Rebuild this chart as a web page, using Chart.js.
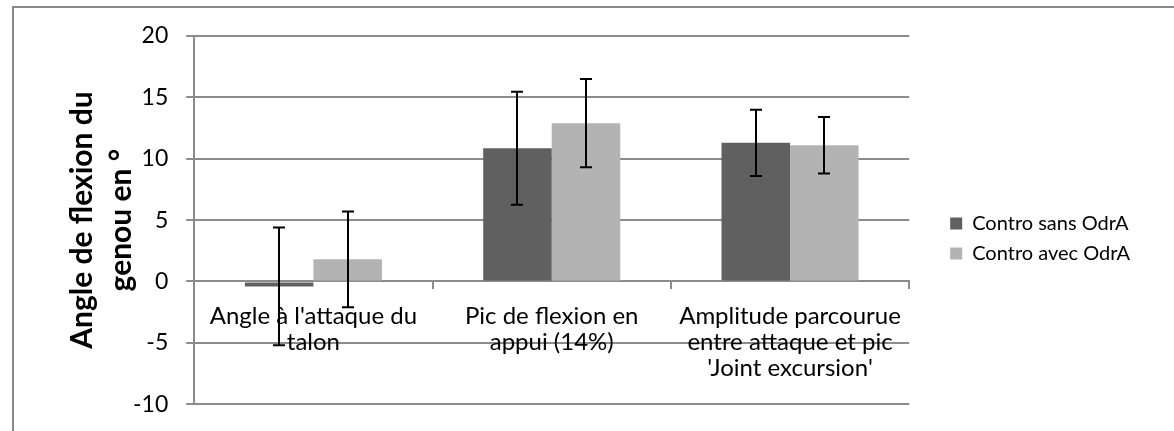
<!DOCTYPE html>
<html lang="fr">
<head>
    <meta charset="UTF-8">
    <title>Angle de flexion du genou</title>
    <script src="https://cdn.jsdelivr.net/npm/chart.js"></script>
    <style>
        body {
            margin: 0;
            padding: 0;
            background-color: #ffffff;
            overflow: hidden;
        }
        .frame {
            position: absolute;
            left: 12px;
            top: 6px;
            width: 1300px;
            height: 600px;
            border-top: 2px solid #888888;
            border-left: 2px solid #888888;
        }
        canvas {
            position: absolute;
            left: 0;
            top: 0;
        }
    </style>
</head>
<body>
    <div class="frame"></div>
    <!-- a little taller than the window: the chart's bottom edge is cropped like the original -->
    <canvas id="chart" width="1174" height="436"></canvas>

    <script>
        // categories (x axis labels, multi-line)
        const categories = [
            ["Angle à l'attaque du", "talon"],
            ["Pic de flexion en", "appui (14%)"],
            ["Amplitude parcourue", "entre attaque et pic", "'Joint excursion'"]
        ];
        const seriesNames = ['Contro sans OdrA', 'Contro avec OdrA'];

        // means
        const sansOdrA = [-0.4, 10.85, 11.3];
        const avecOdrA = [1.8, 12.9, 11.1];

        // standard deviations (error bars)
        const sansOdrAErr = [4.8, 4.6, 2.7];
        const avecOdrAErr = [3.9, 3.6, 2.3];

        const yTicks = [-10, -5, 0, 5, 10, 15, 20];

        const FONT = 'Lato, "Open Sans", sans-serif';
        const gridColor = '#8c8c8c';

        // draws error bars from the bar elements and the y scale
        const errorBars = {
            id: 'errorBars',
            afterDatasetsDraw(chart) {
                const ctx = chart.ctx;
                const yScale = chart.scales.y;
                const errs = [sansOdrAErr, avecOdrAErr];
                ctx.save();
                ctx.strokeStyle = '#000000';
                ctx.lineWidth = 2;
                chart.data.datasets.forEach((ds, i) => {
                    const meta = chart.getDatasetMeta(i);
                    meta.data.forEach((bar, j) => {
                        const v = ds.data[j];
                        const e = errs[i][j];
                        const top = yScale.getPixelForValue(v + e);
                        const bottom = yScale.getPixelForValue(v - e);
                        const x = Math.round(bar.x);
                        ctx.beginPath();
                        ctx.moveTo(x, top);
                        ctx.lineTo(x, bottom);
                        ctx.moveTo(x - 6, top);
                        ctx.lineTo(x + 6, top);
                        ctx.moveTo(x - 6, bottom);
                        ctx.lineTo(x + 6, bottom);
                        ctx.stroke();
                    });
                });
                ctx.restore();
            }
        };

        const ctx = document.getElementById('chart').getContext('2d');
        new Chart(ctx, {
            type: 'bar',
            data: {
                labels: categories,
                datasets: [{
                    label: seriesNames[0],
                    data: sansOdrA,
                    backgroundColor: '#606060',
                    categoryPercentage: 0.575,
                    barPercentage: 1.0
                }, {
                    label: seriesNames[1],
                    data: avecOdrA,
                    backgroundColor: '#b3b3b3',
                    categoryPercentage: 0.575,
                    barPercentage: 1.0
                }]
            },
            options: {
                responsive: false,
                animation: false,
                layout: {
                    padding: { left: 63, right: 34, top: 36, bottom: 4 }
                },
                plugins: {
                    tooltip: { enabled: false },
                    legend: {
                        position: 'right',
                        maxWidth: 320,
                        title: {
                            display: true,
                            text: '',
                            padding: 0,
                            font: { size: 9, lineHeight: '9px' }
                        },
                        labels: {
                            boxWidth: 12,
                            boxHeight: 12,
                            padding: 10,
                            color: '#000000',
                            font: { family: FONT, size: 20 }
                        }
                    }
                },
                scales: {
                    x: {
                        position: { y: 0 },
                        grid: {
                            drawOnChartArea: false,
                            drawTicks: true,
                            tickLength: 7,
                            color: gridColor,
                            lineWidth: 2
                        },
                        border: { color: gridColor, width: 2 },
                        ticks: {
                            color: '#000000',
                            padding: 15,
                            maxRotation: 0,
                            autoSkip: false,
                            font: { family: FONT, size: 24, lineHeight: '26px' }
                        }
                    },
                    y: {
                        min: -10,
                        max: 20,
                        afterBuildTicks(scale) {
                            scale.ticks = yTicks.map(v => ({ value: v }));
                        },
                        grid: {
                            color: gridColor,
                            lineWidth: 2,
                            tickLength: 8
                        },
                        border: { color: gridColor, width: 2 },
                        ticks: {
                            color: '#000000',
                            padding: 18,
                            font: { family: FONT, size: 23 }
                        },
                        title: {
                            display: true,
                            text: ['Angle de flexion du', 'genou en °'],
                            color: '#000000',
                            padding: { top: 0, bottom: -26 },
                            font: { family: FONT, size: 30, weight: 'bold', lineHeight: '39px' }
                        }
                    },
                    spacer: {
                        type: 'linear',
                        position: 'right',
                        display: true,
                        grid: { display: false },
                        border: { display: false },
                        ticks: { display: false },
                        afterFit(scale) {
                            scale.width = 31;
                        }
                    }
                }
            },
            plugins: [errorBars]
        });
    </script>
</body>
</html>
